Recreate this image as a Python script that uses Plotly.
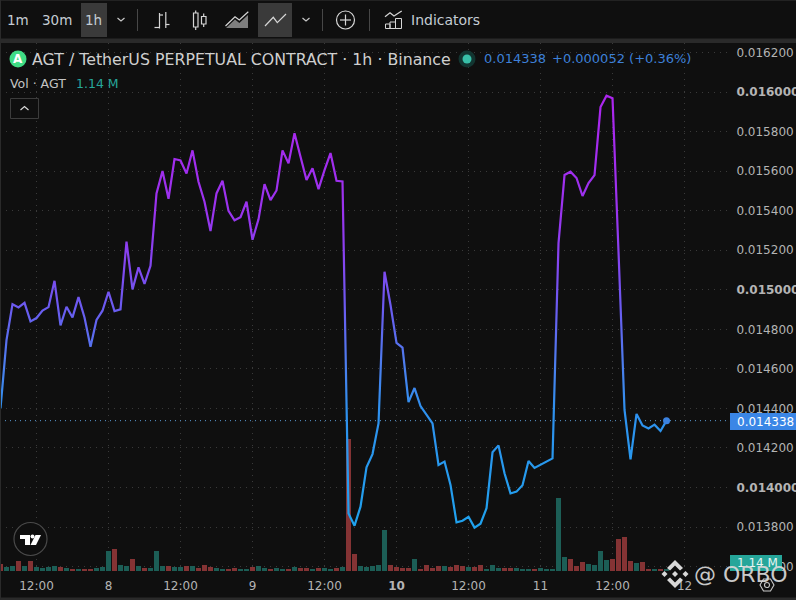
import plotly.graph_objects as go

# ---------- data ----------
hours = list(range(112))
price = [
 0.014400,0.014745,0.014927,0.014911,0.014934,0.014840,0.014857,0.014895,0.014912,0.015045,
 0.014820,0.014914,0.014860,0.014963,0.014860,0.014712,0.014847,0.014894,0.014990,0.014892,
 0.014901,0.015243,0.015002,0.015113,0.015030,0.015121,0.015487,0.015600,0.015460,0.015661,
 0.015654,0.015588,0.015705,0.015546,0.015445,0.015297,0.015487,0.015551,0.015399,0.015351,
 0.015367,0.015445,0.015253,0.015356,0.015534,0.015453,0.015502,0.015705,0.015639,0.015791,
 0.015673,0.015555,0.015614,0.015509,0.015605,0.015691,0.015551,0.015548,0.013869,0.013807,
 0.013903,0.014102,0.014169,0.014324,0.015091,0.014923,0.014731,0.014707,0.014432,0.014503,
 0.014412,0.014367,0.014324,0.014114,0.014131,0.014013,0.013824,0.013832,0.013852,0.013797,
 0.013817,0.013895,0.014178,0.014213,0.014072,0.013970,0.013979,0.014011,0.014134,0.014099,
 0.014114,0.014131,0.014147,0.015236,0.015580,0.015597,0.015565,0.015474,0.015540,0.015580,
 0.015924,0.015981,0.015968,0.015191,0.014392,0.014142,0.014372,0.014314,0.014299,0.014318,
 0.014286,0.014338]
volume_m = [
 3.99,2.28,2.85,5.70,2.85,5.70,2.28,1.71,2.28,2.85,
 2.28,1.71,1.14,1.14,1.14,1.14,1.71,2.28,11.40,12.54,
 3.42,2.85,6.84,2.85,1.71,1.71,11.40,2.85,2.85,2.28,
 2.28,2.85,2.85,1.71,3.42,2.28,1.71,1.14,1.14,1.71,
 1.14,1.14,2.28,2.85,1.71,1.14,1.71,1.14,1.14,2.28,
 1.71,1.71,1.14,1.71,1.71,1.14,1.71,2.28,75.24,9.69,
 2.85,2.28,2.85,3.42,23.37,3.42,2.28,1.71,1.71,6.84,
 1.14,3.42,1.71,2.85,2.85,2.28,3.42,2.85,2.28,2.28,
 3.42,1.14,3.42,1.71,1.71,1.71,1.71,1.14,1.14,1.14,
 1.71,1.14,1.14,41.61,7.98,6.84,2.85,5.13,3.99,3.42,
 11.40,6.27,6.84,18.24,19.38,5.70,4.56,5.13,1.14,1.14,
 1.14,1.14]
volume_dir = ("r g g r g r g g g g "
              "r g r g r r g g g r "
              "g g r g r g g g r g "
              "g r g r r r g g r r "
              "g g r g g r g g r g "
              "r r g r g g r g r r "
              "g g g g g r r r r g "
              "r r r r g r r r g r "
              "r g g g r r g g g r "
              "g g g g g r r r g g "
              "g g r r r r g r r g "
              "r g").split()
x_ticks = [6,18,30,42,54,66,78,90,102,114]
x_labels = ["12:00","8","12:00","9","12:00","<b>10</b>","12:00","11","12:00","12"]
y_ticks = [0.0136,0.0138,0.0140,0.0142,0.0144,0.0146,0.0148,0.0150,0.0152,0.0154,0.0156,0.0158,0.0160,0.0162]
y_labels = ["0.013600","0.013800","<b>0.014000</b>","0.014200","0.014400","0.014600","0.014800",
            "<b>0.015000</b>","0.015200","0.015400","0.015600","0.015800","<b>0.016000</b>","0.016200"]
last_price = price[-1]
gradient_stops = [(0.0160,"#ad25ee"),(0.0154,"#9a33ee"),(0.0152,"#8a40f0"),(0.0149,"#6a5cf0"),
                  (0.0146,"#4a80ee"),(0.0144,"#2f90ee"),(0.0138,"#1fa2ee")]

# ---------- layout constants ----------
W, H = 796, 600
L, R, T, B = 0, 730, 43, 571
BG = "#0f0f0f"
FONT = "DejaVu Sans"
TXT = "#b4b4b4"
def sx(p): return (p - L) / (R - L)
def sy(p): return (B - p) / (B - T)

shapes, notes = [], []
def rect(x0, y0, x1, y1, fill=None, line=None, w=1, op=1):
    shapes.append(dict(type="rect", xref="paper", yref="paper", x0=sx(x0), x1=sx(x1), y0=sy(y0), y1=sy(y1),
        fillcolor=fill or "rgba(0,0,0,0)", line=dict(color=line or "rgba(0,0,0,0)", width=w if line else 0),
        layer="above", opacity=op))
def path(pts, color=None, w=1.2, fill=None, close=False, op=1):
    d = "M" + "L".join(f"{sx(a):.5f},{sy(b):.5f}" for a, b in pts) + ("Z" if close else "")
    shapes.append(dict(type="path", xref="paper", yref="paper", path=d, fillcolor=fill or "rgba(0,0,0,0)",
        line=dict(color=color or "rgba(0,0,0,0)", width=w if color else 0), layer="above", opacity=op))
def circle(cx, cy, r, fill=None, line=None, w=1.2):
    shapes.append(dict(type="circle", xref="paper", yref="paper", x0=sx(cx-r), x1=sx(cx+r), y0=sy(cy-r), y1=sy(cy+r),
        fillcolor=fill or "rgba(0,0,0,0)", line=dict(color=line or "rgba(0,0,0,0)", width=w if line else 0), layer="above"))
def text(x, y, s, size=13, color=TXT, anchor="left", op=1, font=FONT):
    notes.append(dict(xref="paper", yref="paper", x=sx(x), y=sy(y), text=s, showarrow=False, xanchor=anchor,
        yanchor="middle", font=dict(family=font, size=size, color=color), opacity=op, borderpad=0, borderwidth=0))

# toolbar + frame
rect(0, 38.5, 796, 43, fill="#2a2a2a")
rect(0, 0, 796, 1, fill="#222222")
rect(0, 597.5, 796, 600, fill="#2a2a2a")
rect(0, 0, 1, 600, fill="#2a2a2a")
rect(81, 3, 107, 37, fill="#3a3a3a")
rect(258, 3, 292, 37, fill="#3a3a3a")
for xs in (137.5, 322.5, 369.5):
    path([(xs, 9), (xs, 31)], color="#484848", w=1)
text(7, 20.5, "1m", 13.5, "#c4ccd4")
text(41.5, 20.5, "30m", 13.5, "#c4ccd4")
text(85, 20.5, "1h", 13.5, "#c4ccd4")
text(411, 20.5, "Indicators", 14, "#c4ccd4")
for cx in (121, 306):
    path([(cx-3.5, 18), (cx, 21), (cx+3.5, 18)], color="#c8c8c8", w=1.2)
IC = "#d6d6d6"
path([(154.5,27.5),(159.5,27.5)], color=IC)
path([(159.5,13),(159.5,28.5)], color=IC); path([(159.5,15),(163,15)], color=IC)
path([(165.8,12),(165.8,28)], color=IC); path([(165.8,24.5),(169.5,24.5)], color=IC)
rect(193.5,13,198,27, line=IC, w=1.2); path([(195.7,10.5),(195.7,13)], color=IC); path([(195.7,27),(195.7,30)], color=IC)
rect(201.5,16.5,206,24, line=IC, w=1.2); path([(203.7,13.5),(203.7,16.5)], color=IC); path([(203.7,24),(203.7,27)], color=IC)
path([(225.5,26),(235,16.7),(239.3,20),(248.3,11.7)], color=IC)
path([(226,28),(235,19.5),(239.3,23),(248,15),(248,28)], fill="#9a9a9a", close=True, op=.8)
path([(265,26),(273.3,17.3),(277.3,22.7),(286,14)], color=IC)
circle(345.5, 20, 9, line=IC)
path([(340,20),(351,20)], color=IC); path([(345.5,14.5),(345.5,25.5)], color=IC)
rect(385.5,24,390,28.5, line=IC); rect(390,22,395.5,28.5, line=IC); rect(395.5,18.5,401.5,28.5, line=IC)
path([(385,16.7),(390,12.7),(394,16),(401.7,11)], color=IC)

# legend
circle(18, 59, 8.5, fill="#3fdc85")
text(18, 59, "<b>A</b>", 12, "#ffffff", anchor="center")
text(32, 59.5, "AGT / TetherUS PERPETUAL CONTRACT · 1h · Binance", 15.8, "#cfcfcf")
circle(467, 59, 8.5, fill="#123531")
circle(467, 59, 4.5, fill="#38bfa8")
text(484, 59, "0.014338", 13, "#3d80d8")
text(552, 59, "+0.000052 (+0.36%)", 13, "#3d80d8")
text(10, 83, "Vol · AGT", 12.5, "#c4c4c4")
text(76, 83, "1.14 M", 12.5, "#26a69a")
rect(10.5, 98.5, 38.5, 118.5, line="#3c3c3c", w=1, fill=BG)
path([(20.5,110),(24.5,106.5),(28.5,110)], color="#d8d8d8", w=1.2)

# TV logo
circle(30.5, 539, 16.5, fill=BG, line="#4a4a4a", w=1.2)
path([(20,535),(30,535),(30,545),(25,545),(25,539),(20,539)], fill="#ffffff", close=True)
circle(32.5, 536.5, 2, fill="#ffffff")
path([(35.5,535),(41,535),(36,545),(30.5,545)], fill="#ffffff", close=True)

# right labels
rect(730, 413, 796, 430, fill="#3a86e6")
text(737, 421.5, "0.014338", 12, "#ffffff")
rect(730, 555, 782, 571, fill="#26a69a")
text(737, 563, "1.14 M", 12, "#e8f5f3")

# watermark
WM = "#d8d8d8"
def diamond(cx, cy, r): path([(cx,cy-r),(cx+r,cy),(cx,cy+r),(cx-r,cy)], fill=WM, close=True)
cx0, cy0 = 675, 574
diamond(cx0, cy0, 3); diamond(cx0-10.5, cy0, 3); diamond(cx0+10.5, cy0, 3)
path([(cx0,cy0-14),(cx0+8,cy0-6),(cx0+5,cy0-3.5),(cx0,cy0-8.5),(cx0-5,cy0-3.5),(cx0-8,cy0-6)], fill=WM, close=True)
path([(cx0,cy0+14),(cx0+8,cy0+6),(cx0+5,cy0+3.5),(cx0,cy0+8.5),(cx0-5,cy0+3.5),(cx0-8,cy0+6)], fill=WM, close=True)
text(694, 574, "@ ORBO", 22, "#d8d8d8", op=.92)
gx, gy = 767, 585
path([(gx-7,gy),(gx-3.5,gy-6),(gx+3.5,gy-6),(gx+7,gy),(gx+3.5,gy+6),(gx-3.5,gy+6)], color="#c8c8c8", w=1.1, close=True)
circle(gx, gy, 2.5, line="#c8c8c8", w=1.1)

# dotted last-price line
shapes.append(dict(type="line", xref="paper", yref="y2", x0=0, x1=1, y0=last_price, y1=last_price,
    line=dict(color="#5b9bd5", width=1, dash="1px,4px"), layer="below"))

# ---------- traces ----------
colors = ["#1c5e56" if d == "g" else "#843334" for d in volume_dir]
fig = go.Figure()
fig.add_trace(go.Bar(x=hours, y=volume_m, marker=dict(color=colors, line=dict(width=0)), width=0.83,
                     yaxis="y", xaxis="x", hoverinfo="skip", showlegend=False, name="Vol"))
fig.add_trace(go.Scatter(x=hours, y=price, mode="lines", line=dict(color="#3b8cf0", width=2.2, shape="linear"),
                         yaxis="y2", hoverinfo="skip", showlegend=False, name="AGT"))
fig.add_trace(go.Scatter(x=hours[-1:], y=price[-1:], mode="markers", marker=dict(color="#3b82e0", size=7),
                         yaxis="y2", hoverinfo="skip", showlegend=False, name="last"))

GRID = "#3a3a3a"
p_top = 0.016 + (92 - T) / 39.55 * 0.0002
p_bot = 0.016 - (B - 92) / 39.55 * 0.0002
fig.update_layout(
    width=W, height=H, autosize=False, paper_bgcolor=BG, plot_bgcolor=BG,
    margin=dict(l=L, r=W-R, t=T, b=H-B, autoexpand=False), showlegend=False, bargap=0,
    font=dict(family=FONT, size=12, color=TXT),
    xaxis=dict(range=[-0.083, 121.58], tickmode="array", tickvals=x_ticks, ticktext=x_labels, automargin=False,
               showgrid=True, gridcolor=GRID, griddash="1px,5px", gridwidth=1, zeroline=False,
               ticks="outside", ticklen=4, tickcolor=BG, tickfont=dict(family=FONT, size=12, color=TXT), showline=False),
    yaxis=dict(range=[0, (B-T)*0.57], showgrid=False, zeroline=False, showticklabels=False, ticks="", showline=False, automargin=False),
    yaxis2=dict(range=[p_bot, p_top], overlaying="y", side="right", tickmode="array", tickvals=y_ticks, ticktext=y_labels,
                showgrid=True, gridcolor=GRID, griddash="1px,5px", gridwidth=1, zeroline=False, showline=False, automargin=False,
                ticks="outside", ticklen=3, tickcolor=BG, tickfont=dict(family=FONT, size=12, color=TXT)),
    shapes=shapes, annotations=notes,
)

# vertical price gradient applied to the price line through plotly's own y scale
stops_js = ",".join(f"[{p},'{c}']" for p, c in gradient_stops)
post = """
document.body.style.margin='0';
document.body.style.background='%s';
document.documentElement.style.overflow='hidden';
var gd=document.getElementById('{plot_id}');
var ax=gd._fullLayout.yaxis2, st=[%s];
var ns='http://www.w3.org/2000/svg';
var y1=ax.l2p(st[0][0]), y2=ax.l2p(st[st.length-1][0]);
var g=document.createElementNS(ns,'linearGradient');
g.setAttribute('id','pricegrad'); g.setAttribute('gradientUnits','userSpaceOnUse');
g.setAttribute('x1',0); g.setAttribute('x2',0); g.setAttribute('y1',y1); g.setAttribute('y2',y2);
st.forEach(function(s){var e=document.createElementNS(ns,'stop');
 e.setAttribute('offset',(ax.l2p(s[0])-y1)/(y2-y1)); e.setAttribute('stop-color',s[1]); g.appendChild(e);});
gd.querySelector('.main-svg defs').appendChild(g);
var ls=gd.querySelectorAll('.scatterlayer .trace .js-line');
if(ls.length){ls[0].style.stroke='url(#pricegrad)';}
""" % (BG, stops_js)
fig.write_html("out.html", post_script=post, config=dict(displayModeBar=False))
